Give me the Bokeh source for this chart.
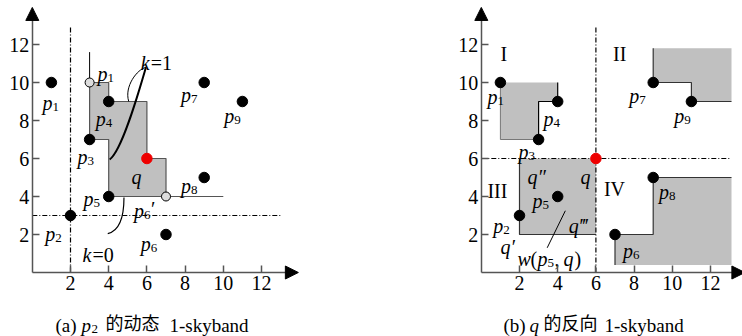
from bokeh.plotting import figure
from bokeh.layouts import row
from bokeh.models import Arrow, NormalHead, FixedTicker, Range1d
from bokeh.core.properties import value
from bokeh.embed import file_html
from bokeh.resources import INLINE

SERIF = "Liberation Serif"
CJK = "Liberation Serif, Noto Sans CJK SC"
TICKS = [2, 4, 6, 8, 10, 12]
GREY = "#c0c0c0"
EDGE = "#555555"

# ---------------- data: panel (a) ----------------
a_px = [1, 2, 3, 4, 4, 7, 9, 9, 11]
a_py = [10, 3, 7, 9, 4, 2, 10, 5, 9]
a_qx, a_qy = [6], [6]
a_open_x = [3, 7]
a_open_y = [10, 4]
a_region_x = [3, 4, 4, 6, 6, 7, 7, 4, 4, 3]
a_region_y = [10, 10, 9, 9, 6, 6, 4, 4, 7, 7]
a_tail_x, a_tail_y = [7, 10], [4, 4]
a_up_x, a_up_y = [3, 3], [10, 11.6]
a_guide_v = 2
a_guide_h = 3
# labels (anchor: left of p, baseline)
a_lab_x = [0.53, 3.42, 3.32, 2.37, 2.68, 0.68, 5.32, 5.68, 7.79, 7.79, 10.05]
a_lab_y = [8.9, 10.47, 8.1, 6.1, 3.87, 2.03, 3.24, 1.5, 4.55, 9.34, 8.24]
a_lab_sub = ["1", "1", "4", "3", "5", "2", "6", "6", "8", "7", "9"]
a_lab_prime = ["", "", "", "", "", "", "\u2032", "", "", "", ""]

# ---------------- data: panel (b) ----------------
b_px = [1, 3, 4, 9, 11, 2, 4, 9, 7]
b_py = [10, 7, 9, 10, 9, 3, 4, 5, 2]
b_qx, b_qy = [6], [6]
b_r1_x = [1, 4, 4, 3, 3, 1]
b_r1_y = [10, 10, 9, 9, 7, 7]
b_r1_step_x = [4, 4, 3, 3]
b_r1_step_y = [10, 9, 9, 7]
b_r2_x = [9, 13.1, 13.1, 11, 11, 9]
b_r2_y = [11.8, 11.8, 9, 9, 10, 10]
b_r2_step_x = [9, 9, 11, 11, 13.1]
b_r2_step_y = [11.8, 10, 10, 9, 9]
b_r3_x = [2, 6, 6, 2]
b_r3_y = [2, 2, 6, 6]
b_r3_step_x = [2, 2, 6]
b_r3_step_y = [6, 2, 2]
b_r4_x = [7, 9, 9, 13.1, 13.1, 7]
b_r4_y = [2, 2, 5, 5, 0.4, 0.4]
b_r4_step_x = [7, 7, 9, 9, 13.1]
b_r4_step_y = [0.4, 2, 2, 5, 5]
b_guide_v = 6
b_guide_h = 6
b_lab_x = [0.32, 3.26, 1.95, 7.74, 10.1, 2.68, 0.63, 9.3, 7.42]
b_lab_y = [9.24, 8.08, 6.34, 9.29, 8.24, 3.76, 2.45, 4.24, 1.13]
b_lab_sub = ["1", "4", "3", "7", "9", "5", "2", "8", "6"]
b_roman = ["I", "II", "III", "IV"]
b_roman_x = [1.0, 6.9, 0.32, 6.42]
b_roman_y = [11.5, 11.5, 4.3, 4.42]
b_q_text = ["q\u2033", "q", "q\u2034", "q\u2032"]
b_q_x = [2.42, 5.2, 4.58, 1.0]
b_q_y = [5.03, 5.03, 2.45, 1.34]
b_ptr_x, b_ptr_y = [4.4, 3.45], [3.25, 1.3]

FS = 20
SUB = 13
SX, SY = 19.1, 19.0      # pixels per data unit
OY = 272                  # pixel row of y = 0
H = 336


def make_fig(width, x0_px, origin_px, arrow_x):
    xs = (x0_px - origin_px) / SX
    xe = (x0_px + width - origin_px) / SX
    ymax = OY / SY
    ymin = -(H - OY) / SY
    p = figure(width=width, height=H, x_range=Range1d(xs, xe), y_range=Range1d(ymin, ymax),
               output_backend="svg", toolbar_location=None,
               min_border=0, min_border_left=0, min_border_right=0,
               min_border_top=0, min_border_bottom=0)
    p.grid.visible = False
    p.outline_line_color = None
    p.background_fill_color = "white"
    p.border_fill_color = "white"
    for ax in (p.xaxis[0], p.yaxis[0]):
        ax.fixed_location = 0
        ax.ticker = FixedTicker(ticks=TICKS)
        ax.axis_line_color = EDGE
        ax.axis_line_width = 1.5
        ax.major_tick_line_color = EDGE
        ax.major_tick_line_width = 1.5
        ax.major_tick_in = 7
        ax.major_tick_out = 0
        ax.minor_tick_line_color = None
        ax.major_label_text_font = SERIF
        ax.major_label_text_font_size = "20px"
        ax.major_label_text_color = "black"
    p.xaxis[0].bounds = (0, arrow_x - 0.4)
    p.yaxis[0].bounds = (0, 13.5)
    p.xaxis[0].major_label_standoff = 3
    p.yaxis[0].major_label_standoff = 3
    p.add_layout(Arrow(end=NormalHead(size=13, fill_color="black", line_color="black"),
                       x_start=arrow_x - 0.6, y_start=0, x_end=arrow_x, y_end=0,
                       line_alpha=0))
    p.add_layout(Arrow(end=NormalHead(size=13, fill_color="black", line_color="black"),
                       x_start=0, y_start=13.3, x_end=0, y_end=13.95,
                       line_alpha=0))
    return p


def txt(p, xs, ys, texts, style="normal", size=FS, dx=0, dy=0, font=SERIF):
    p.text(x=xs, y=ys, text=texts, x_offset=dx, y_offset=dy,
           text_font=value(font), text_font_style=style, text_font_size=f"{size}px",
           text_align="left", text_baseline="alphabetic", text_color="black")


def plabels(p, xs, ys, subs, primes=None):
    txt(p, xs, ys, ["p"] * len(xs), style="italic")
    txt(p, xs, ys, subs, size=SUB, dx=10, dy=4)
    if primes:
        txt(p, xs, ys, primes, size=FS, dx=17, dy=-2)


CAP_Y = -2.79
# ---------------- panel (a) ----------------
pa = make_fig(440, 0, 31.8, 13.93)
pa.patch(a_region_x, a_region_y, fill_color=GREY, line_color=EDGE, line_width=1.2)
pa.line(a_tail_x, a_tail_y, line_color=EDGE, line_width=1.2)
pa.line(a_up_x, a_up_y, line_color="black", line_width=1)
pa.line([a_guide_v, a_guide_v], [0, 13], line_color="black", line_width=1.2, line_dash="5 2 1 2")
pa.line([0, 13], [a_guide_h, a_guide_h], line_color="black", line_width=1.2, line_dash="5 2 1 2")
# k=1 leaf curves and k=0 pointer
pa.bezier(x0=[5.05], y0=[9.0], x1=[5.95], y1=[10.8], cx0=[4.8], cy0=[9.8], cx1=[5.5], cy1=[10.7],
          line_color="black", line_width=1)
pa.bezier(x0=[5.95], y0=[10.8], x1=[4.05], y1=[5.95], cx0=[5.6], cy0=[9.6], cx1=[4.7], cy1=[6.4],
          line_color="black", line_width=2)
pa.bezier(x0=[3.95], y0=[2.05], x1=[4.8], y1=[3.95], cx0=[4.6], cy0=[2.2], cx1=[4.8], cy1=[3.0],
          line_color="black", line_width=1.2)
pa.scatter(a_px, a_py, size=10.5, color="black")
pa.scatter(a_open_x, a_open_y, size=9, fill_color="#dddddd", line_color="black", line_width=1)
pa.scatter(a_qx, a_qy, size=10.5, color="#ee0000")
plabels(pa, a_lab_x, a_lab_y, a_lab_sub, a_lab_prime)
txt(pa, [5.2], [5.03], ["q"], style="italic")
txt(pa, [5.68], [11.05], ["k"], style="italic")
txt(pa, [5.68], [11.05], ["=1"], dx=10)
txt(pa, [2.63], [0.9], ["k"], style="italic")
txt(pa, [2.63], [0.9], ["=0"], dx=10)
txt(pa, [1.215], [CAP_Y], ["(a)"], size=19)
txt(pa, [2.576], [CAP_Y], ["p"], style="italic", size=19)
txt(pa, [3.10], [CAP_Y], ["2"], size=13, dy=3)
txt(pa, [3.83], [CAP_Y], ["的动态"], size=18, font=CJK, dy=-2)
txt(pa, [7.18], [CAP_Y], ["1-skyband"], size=19)

# ---------------- panel (b) ----------------
pb = make_fig(302, 440, 480.8, 13.8)
for xs, ys in ((b_r1_x, b_r1_y), (b_r2_x, b_r2_y), (b_r3_x, b_r3_y), (b_r4_x, b_r4_y)):
    pb.patch(xs, ys, fill_color=GREY, line_color=None)
pb.line([1, 1, 3], [10, 7, 7], line_color="#777777", line_width=1)
pb.line(b_r1_step_x, b_r1_step_y, line_color="black", line_width=1.2)
pb.line(b_r2_step_x, b_r2_step_y, line_color="#333333", line_width=1.2)
pb.line(b_r3_step_x, b_r3_step_y, line_color="#333333", line_width=1.2)
pb.line(b_r4_step_x, b_r4_step_y, line_color="#333333", line_width=1.2)
pb.line([b_guide_v, b_guide_v], [0, 13], line_color="black", line_width=1.2, line_dash="5 2 1 2")
pb.line([0, 13], [b_guide_h, b_guide_h], line_color="black", line_width=1.2, line_dash="5 2 1 2")
pb.line(b_ptr_x, b_ptr_y, line_color="black", line_width=1)
pb.scatter(b_px, b_py, size=10.5, color="black")
pb.scatter(b_qx, b_qy, size=10.5, color="#ee0000")
plabels(pb, b_lab_x, b_lab_y, b_lab_sub)
txt(pb, b_roman_x, b_roman_y, b_roman)
txt(pb, b_q_x, b_q_y, b_q_text, style="italic")
wx, wy = [1.89], [0.71]
txt(pb, wx, wy, ["w"], style="italic")
txt(pb, wx, wy, ["("], dx=13)
txt(pb, wx, wy, ["p"], style="italic", dx=20)
txt(pb, wx, wy, ["5"], size=SUB, dx=30, dy=4)
txt(pb, wx, wy, [","], dx=37)
txt(pb, wx, wy, ["q"], style="italic", dx=46)
txt(pb, wx, wy, [")"], dx=57)
txt(pb, [1.16], [CAP_Y], ["(b)"], size=19)
txt(pb, [2.52], [CAP_Y], ["q"], style="italic", size=19)
txt(pb, [3.26], [CAP_Y], ["的反向"], size=18, font=CJK, dy=-2)
txt(pb, [6.45], [CAP_Y], ["1-skyband"], size=19)

layout = row(pa, pb)
open("out.html", "w").write(file_html(layout, INLINE))
